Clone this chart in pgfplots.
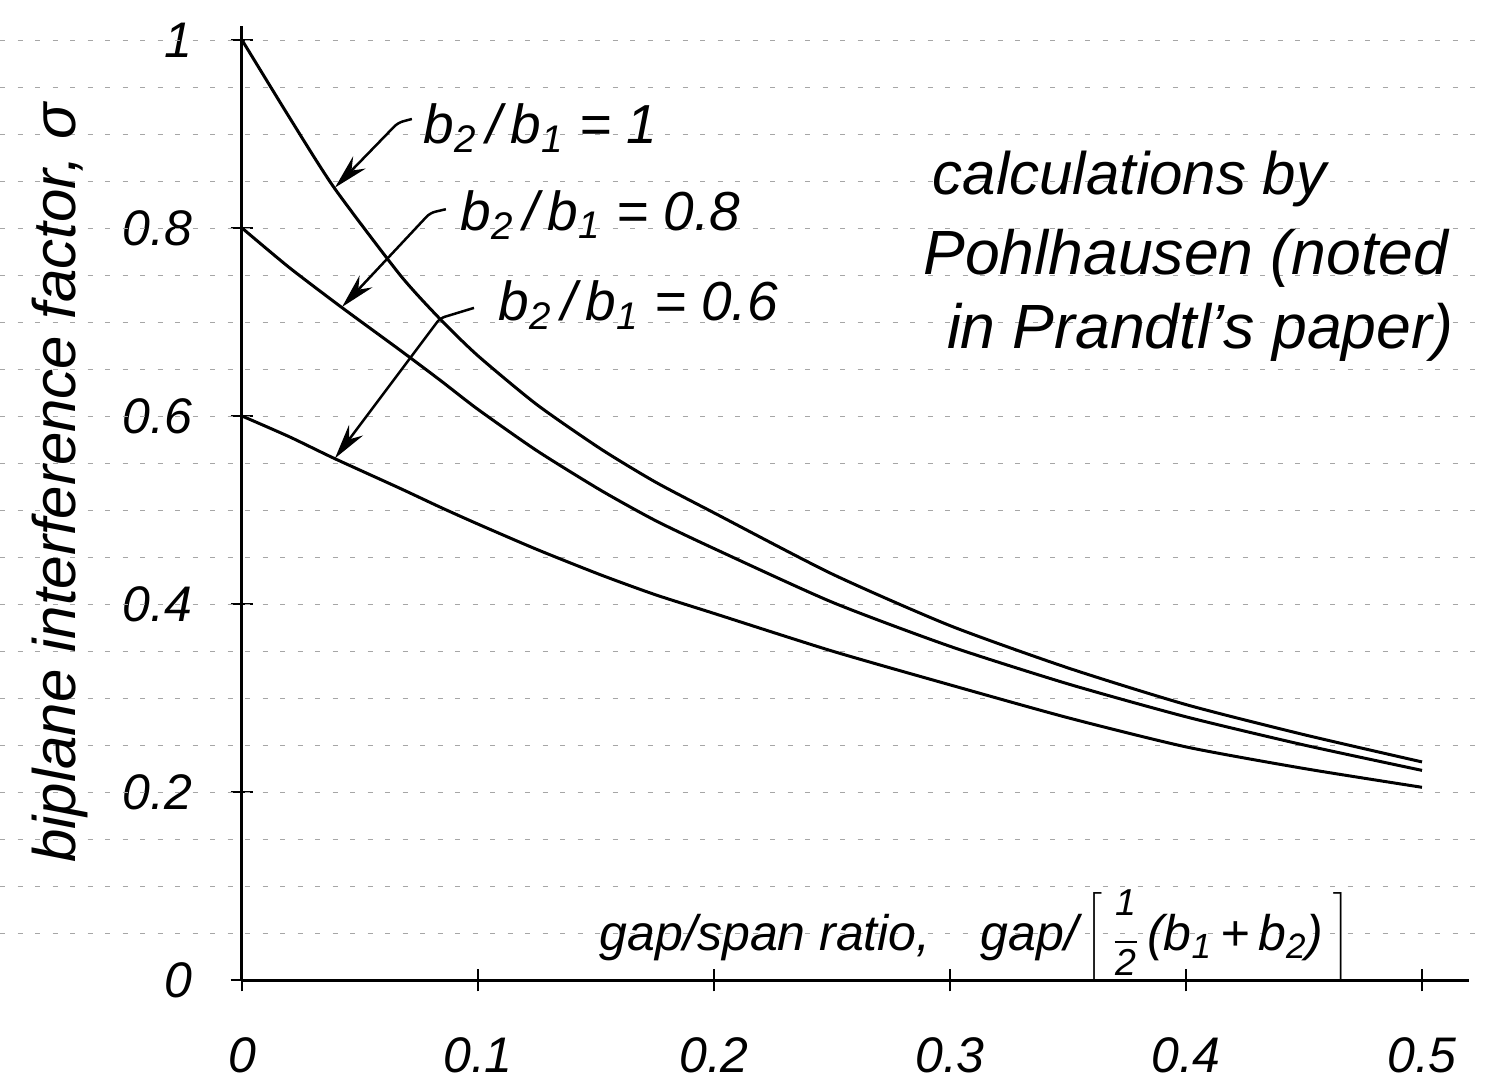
\documentclass[border=0pt]{standalone}
\usepackage{pgfplots}
\pgfplotsset{compat=1.18}
\usepackage{fontspec}
\setmainfont{Liberation Sans}
\usetikzlibrary{arrows.meta}

\pgfplotstableread{
x y
0     1.000
0.02  0.918
0.039 0.843
0.067 0.750
0.084 0.703
0.1   0.664
0.125 0.612
0.152 0.565
0.175 0.530
0.2   0.497
0.25  0.432
0.3   0.377
0.35  0.332
0.4   0.293
0.45  0.261
0.5   0.232
}\curveA
\pgfplotstableread{
x y
0     0.800
0.02  0.758
0.042 0.716
0.067 0.670
0.084 0.638
0.1   0.607
0.125 0.563
0.152 0.521
0.175 0.489
0.2   0.459
0.25  0.402
0.3   0.355
0.35  0.315
0.4   0.280
0.45  0.250
0.5   0.223
}\curveB
\pgfplotstableread{
x y
0     0.600
0.02  0.578
0.039 0.555
0.067 0.523
0.084 0.503
0.1   0.485
0.125 0.458
0.152 0.431
0.175 0.410
0.2   0.390
0.25  0.350
0.3   0.314
0.35  0.279
0.4   0.248
0.45  0.225
0.5   0.205
}\curveC

\newcommand{\half}{\vcenter{\hbox{\fontsize{15}{15}\selectfont\itshape
  \begin{tabular}{@{}c@{}}1\\[-4pt]\rule{9pt}{0.6pt}\\[-2pt]2\end{tabular}}}}

\begin{document}
\begin{tikzpicture}
\useasboundingbox (-96.8pt,-42.8pt) rectangle (497.2pt,392pt);
\begin{axis}[
  at={(0,0)}, anchor=south west,
  x=944pt, y=376pt,
  xmin=0, xmax=0.52, ymin=0, ymax=1.015,
  axis lines=left,
  axis line style={-, line width=1.2pt, black},
  xtick={0,0.1,0.2,0.3,0.4,0.5},
  ytick={0,0.2,0.4,0.6,0.8,1},
  tick align=center,
  major tick length=9pt,
  tick style={line width=1pt, black},
  /pgf/number format/assume math mode=true,
  ticklabel style={font=\fontsize{20}{24}\selectfont\itshape},
  xticklabel style={anchor=north, yshift=-15pt},
  yticklabel style={anchor=east, xshift=-12pt},
  clip=false,
]
% notebook ruling
\pgfplotsinvokeforeach{0.05,0.1,0.15,0.2,0.25,0.3,0.35,0.4,0.45,0.5,0.55,0.6,0.65,0.7,0.75,0.8,0.85,0.9,0.95,1.0}{
  \draw[black!35, line width=0.4pt, dash pattern=on 2pt off 5pt] (axis cs:-0.1025,#1) -- (axis cs:0.5267,#1);
}
\addplot[black, line width=1.2pt, smooth, tension=0.4] table[x=x,y=y] {\curveA};
\addplot[black, line width=1.2pt, smooth, tension=0.4] table[x=x,y=y] {\curveB};
\addplot[black, line width=1.2pt, smooth, tension=0.4] table[x=x,y=y] {\curveC};

% arrows
\draw[line width=1pt, rounded corners=2pt, -{Stealth[length=14pt,width=7pt]}]
  (axis cs:0.0720,0.916) -- (axis cs:0.0661,0.912) -- (axis cs:0.0394,0.843);
\draw[line width=1pt, rounded corners=2pt, -{Stealth[length=14pt,width=7pt]}]
  (axis cs:0.0864,0.820) -- (axis cs:0.0797,0.816) -- (axis cs:0.0424,0.716);
\draw[line width=1pt, rounded corners=2pt, -{Stealth[length=14pt,width=7pt]}]
  (axis cs:0.0983,0.715) -- (axis cs:0.0839,0.704) -- (axis cs:0.0394,0.555);

\node[anchor=west, font=\fontsize{22}{26}\selectfont\itshape] at (axis cs:0.0733,0.906)
  {b\textsubscript{2}\,/\,b\textsubscript{1} = 1};
\node[anchor=west, font=\fontsize{22}{26}\selectfont\itshape] at (axis cs:0.089,0.814)
  {b\textsubscript{2}\,/\,b\textsubscript{1} = 0.8};
\node[anchor=west, font=\fontsize{22}{26}\selectfont\itshape] at (axis cs:0.105,0.718)
  {b\textsubscript{2}\,/\,b\textsubscript{1} = 0.6};

\node[anchor=west, font=\fontsize{24}{28}\selectfont\itshape] at (axis cs:0.289,0.852) {calculations by};
\node[anchor=west, font=\fontsize{25}{28}\selectfont\itshape] at (axis cs:0.285,0.768) {Pohlhausen (noted};
\node[anchor=west, font=\fontsize{25}{28}\selectfont\itshape] at (axis cs:0.295,0.689) {in Prandtl's paper)};

\node[rotate=90, font=\fontsize{24}{28}\selectfont\itshape] at (axis cs:-0.0771,0.529)
  {biplane interference factor, σ};

\node[font=\fontsize{20}{24}\selectfont\itshape] at (axis cs:0.3106,0.045)
  {gap/span ratio,\quad gap/\kern3pt$\left[\rule[-13pt]{0pt}{36pt}\kern5pt\half\kern4pt\hbox{(b\textsubscript{1}\,+\,b\textsubscript{2})}\kern4pt\right]$};
\end{axis}
\end{tikzpicture}
\end{document}
